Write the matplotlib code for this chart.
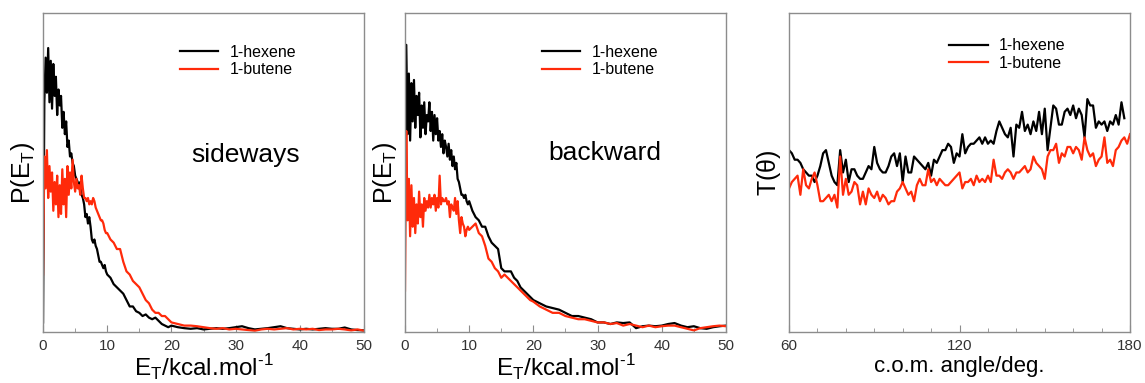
import numpy as np
import matplotlib
matplotlib.use('Agg')
import matplotlib.pyplot as plt
from matplotlib.ticker import MultipleLocator

plt.rcParams['font.family'] = ['Liberation Sans', 'DejaVu Sans']
plt.rcParams['mathtext.fontset'] = 'custom'
plt.rcParams['mathtext.rm'] = 'Liberation Sans'

# Energy grid (kcal/mol)
energy = np.concatenate([np.arange(0, 10, 0.2), np.arange(10, 20, 0.5),
                         np.arange(20, 51, 1.0)])

# Sideways P(ET), arbitrary units
side_hexene = [
    0.03, 0.72, 0.86, 0.75, 0.89, 0.72, 0.85, 0.70, 0.84, 0.74,
    0.80, 0.68, 0.76, 0.71, 0.74, 0.64, 0.69, 0.62, 0.66, 0.58,
    0.60, 0.55, 0.56, 0.53, 0.52, 0.49, 0.48, 0.47, 0.45, 0.47,
    0.43, 0.42, 0.40, 0.36, 0.37, 0.34, 0.36, 0.33, 0.29, 0.28,
    0.29, 0.27, 0.26, 0.24, 0.22, 0.22, 0.21, 0.20, 0.21, 0.19,
    0.18, 0.17, 0.15, 0.14, 0.13, 0.12, 0.10, 0.08, 0.08, 0.065,
    0.06, 0.05, 0.055, 0.045, 0.04, 0.045, 0.035, 0.025, 0.02, 0.015,
    0.02, 0.015, 0.012, 0.01, 0.012, 0.008, 0.01, 0.012, 0.01, 0.012,
    0.015, 0.018, 0.012, 0.008, 0.01, 0.012, 0.015, 0.018, 0.012, 0.01,
    0.008, 0.01, 0.008, 0.01, 0.012, 0.01, 0.01, 0.014, 0.008, 0.006,
    0.005]
side_butene = [
    0.18, 0.55, 0.45, 0.57, 0.42, 0.52, 0.44, 0.50, 0.38, 0.47,
    0.40, 0.49, 0.36, 0.46, 0.37, 0.51, 0.40, 0.48, 0.36, 0.52,
    0.43, 0.50, 0.45, 0.54, 0.47, 0.44, 0.48, 0.45, 0.46, 0.43,
    0.49, 0.45, 0.42, 0.42, 0.41, 0.42, 0.40, 0.41, 0.40, 0.42,
    0.41, 0.39, 0.38, 0.37, 0.36, 0.35, 0.35, 0.34, 0.32, 0.31,
    0.31, 0.29, 0.28, 0.26, 0.26, 0.22, 0.19, 0.18, 0.16, 0.15,
    0.14, 0.12, 0.10, 0.09, 0.07, 0.06, 0.06, 0.05, 0.05, 0.04,
    0.03, 0.025, 0.02, 0.02, 0.018, 0.015, 0.012, 0.01, 0.012, 0.008,
    0.01, 0.008, 0.006, 0.004, 0.008, 0.01, 0.008, 0.01, 0.012, 0.008,
    0.01, 0.008, 0.01, 0.006, 0.008, 0.008, 0.01, 0.008, 0.005, 0.008,
    0.004]

# Backward P(ET), arbitrary units
back_hexene = [
    0.64, 0.90, 0.62, 0.81, 0.60, 0.78, 0.66, 0.79, 0.64, 0.74,
    0.68, 0.75, 0.61, 0.71, 0.64, 0.72, 0.62, 0.68, 0.66, 0.72,
    0.63, 0.69, 0.60, 0.68, 0.62, 0.67, 0.60, 0.63, 0.58, 0.62,
    0.56, 0.60, 0.58, 0.55, 0.59, 0.54, 0.57, 0.52, 0.55, 0.51,
    0.53, 0.48, 0.47, 0.45, 0.43, 0.43, 0.42, 0.43, 0.41, 0.40,
    0.41, 0.38, 0.36, 0.35, 0.33, 0.33, 0.30, 0.28, 0.27, 0.26,
    0.20, 0.19, 0.19, 0.19, 0.17, 0.16, 0.14, 0.13, 0.12, 0.11,
    0.10, 0.09, 0.08, 0.075, 0.07, 0.06, 0.05, 0.05, 0.045, 0.04,
    0.03, 0.03, 0.025, 0.03, 0.028, 0.03, 0.012, 0.018, 0.02, 0.018,
    0.02, 0.025, 0.028, 0.02, 0.015, 0.018, 0.012, 0.01, 0.015, 0.018,
    0.02]
back_butene = [
    0.13, 0.63, 0.35, 0.48, 0.30, 0.46, 0.33, 0.42, 0.31, 0.40,
    0.34, 0.44, 0.36, 0.40, 0.33, 0.42, 0.38, 0.41, 0.39, 0.43,
    0.39, 0.42, 0.40, 0.43, 0.38, 0.42, 0.39, 0.49, 0.40, 0.42,
    0.41, 0.41, 0.42, 0.40, 0.41, 0.36, 0.40, 0.39, 0.38, 0.42,
    0.37, 0.41, 0.35, 0.31, 0.36, 0.34, 0.33, 0.30, 0.32, 0.33,
    0.32, 0.33, 0.34, 0.31, 0.30, 0.27, 0.23, 0.22, 0.20, 0.19,
    0.17, 0.18, 0.17, 0.16, 0.15, 0.14, 0.13, 0.12, 0.11, 0.10,
    0.095, 0.08, 0.07, 0.06, 0.06, 0.05, 0.045, 0.04, 0.04, 0.035,
    0.03, 0.03, 0.025, 0.028, 0.02, 0.025, 0.02, 0.015, 0.02, 0.015,
    0.018, 0.02, 0.02, 0.015, 0.01, 0.005, 0.012, 0.015, 0.018, 0.02,
    0.018]

# c.o.m. angular distribution T(theta), arbitrary units
angle_hexene = np.arange(60, 179, 1)
angle_butene = np.arange(60, 181, 1)
theta_hexene = [
    0.57, 0.56, 0.54, 0.54, 0.53, 0.51, 0.50, 0.49, 0.49, 0.47,
    0.49, 0.52, 0.56, 0.57, 0.53, 0.49, 0.47, 0.46, 0.57, 0.50,
    0.54, 0.47, 0.51, 0.51, 0.49, 0.48, 0.48, 0.50, 0.52, 0.51,
    0.58, 0.53, 0.51, 0.50, 0.50, 0.52, 0.55, 0.56, 0.52, 0.56,
    0.47, 0.55, 0.50, 0.50, 0.55, 0.54, 0.53, 0.52, 0.51, 0.53,
    0.49, 0.54, 0.53, 0.55, 0.57, 0.57, 0.59, 0.58, 0.53, 0.56,
    0.55, 0.62, 0.56, 0.58, 0.59, 0.59, 0.60, 0.61, 0.59, 0.61,
    0.59, 0.60, 0.59, 0.63, 0.66, 0.64, 0.62, 0.61, 0.64, 0.55,
    0.65, 0.64, 0.69, 0.63, 0.65, 0.62, 0.66, 0.63, 0.69, 0.62,
    0.70, 0.57, 0.64, 0.71, 0.70, 0.65, 0.65, 0.69, 0.70, 0.68,
    0.71, 0.67, 0.70, 0.68, 0.61, 0.73, 0.71, 0.71, 0.64, 0.66,
    0.65, 0.66, 0.63, 0.66, 0.65, 0.68, 0.65, 0.72, 0.67]
theta_butene = [
    0.45, 0.47, 0.48, 0.49, 0.43, 0.51, 0.46, 0.45, 0.48, 0.50,
    0.46, 0.41, 0.41, 0.42, 0.43, 0.41, 0.43, 0.39, 0.55, 0.43,
    0.48, 0.43, 0.44, 0.47, 0.46, 0.40, 0.44, 0.40, 0.45, 0.43,
    0.42, 0.44, 0.41, 0.43, 0.42, 0.40, 0.41, 0.41, 0.44, 0.45,
    0.47, 0.45, 0.43, 0.44, 0.41, 0.46, 0.48, 0.46, 0.46, 0.51,
    0.47, 0.48, 0.46, 0.48, 0.47, 0.46, 0.46, 0.47, 0.48, 0.49,
    0.50, 0.45, 0.47, 0.47, 0.48, 0.46, 0.49, 0.47, 0.48, 0.47,
    0.49, 0.47, 0.54, 0.49, 0.49, 0.48, 0.50, 0.51, 0.50, 0.48,
    0.50, 0.50, 0.51, 0.52, 0.50, 0.51, 0.55, 0.53, 0.52, 0.51,
    0.48, 0.55, 0.57, 0.57, 0.59, 0.53, 0.56, 0.55, 0.58, 0.58,
    0.56, 0.58, 0.57, 0.54, 0.61, 0.57, 0.55, 0.56, 0.52, 0.54,
    0.55, 0.61, 0.53, 0.54, 0.52, 0.57, 0.58, 0.60, 0.61, 0.59,
    0.62]

RED = '#ff2a0a'
GREY = '#8c8c8c'
TICK_TXT = '#333333'


def style_axis(ax):
    for s in ax.spines.values():
        s.set_color(GREY)
        s.set_linewidth(1.0)
    ax.tick_params(axis='x', which='both', direction='in', color=GREY,
                   labelcolor=TICK_TXT, labelsize=11, pad=5)
    ax.tick_params(axis='x', which='major', length=5)
    ax.tick_params(axis='x', which='minor', length=3)
    ax.set_yticks([])


def add_legend(ax, x0, y0):
    ax.legend(loc='upper left', bbox_to_anchor=(x0, y0), frameon=False,
              fontsize=11.5, handlelength=2.4, handletextpad=0.7,
              labelspacing=0.15, borderaxespad=0, borderpad=0)


fig = plt.figure(figsize=(11.45, 3.83), dpi=100)
ax1 = fig.add_axes([0.0376, 0.1332, 0.2803, 0.833])
ax2 = fig.add_axes([0.3537, 0.1332, 0.2803, 0.833])
ax3 = fig.add_axes([0.6891, 0.1332, 0.2978, 0.833])

# Sideways
ax1.plot(energy, side_hexene, color='black', linewidth=1.6, label='1-hexene')
ax1.plot(energy, side_butene, color=RED, linewidth=1.6, label='1-butene')
ax1.text(0.63, 0.555, 'sideways', transform=ax1.transAxes, fontsize=19,
         ha='center', va='center')

# Backward
ax2.plot(energy, back_hexene, color='black', linewidth=1.6, label='1-hexene')
ax2.plot(energy, back_butene, color=RED, linewidth=1.6, label='1-butene')
ax2.text(0.623, 0.56, 'backward', transform=ax2.transAxes, fontsize=19,
         ha='center', va='center')

for ax in (ax1, ax2):
    ax.set_xlim(0, 50)
    ax.set_ylim(0, 1)
    ax.xaxis.set_major_locator(MultipleLocator(10))
    ax.xaxis.set_minor_locator(MultipleLocator(5))
    style_axis(ax)
    ax.set_xlabel('E$_\\mathregular{T}$/kcal.mol$^\\mathregular{\u2010 1}$',
                  fontsize=17.5, labelpad=0)
    ax.set_ylabel(r'P(E$_\mathregular{T}$)', fontsize=18, labelpad=4)
    add_legend(ax, 0.427, 0.9)

# Angular distribution
ax3.plot(angle_hexene, theta_hexene, color='black', linewidth=1.6, label='1-hexene')
ax3.plot(angle_butene, theta_butene, color=RED, linewidth=1.6, label='1-butene')
ax3.set_xlim(60, 180)
ax3.set_ylim(0, 1)
ax3.xaxis.set_major_locator(MultipleLocator(60))
ax3.xaxis.set_minor_locator(MultipleLocator(10))
style_axis(ax3)
ax3.set_xlabel('c.o.m. angle/deg.', fontsize=16, labelpad=2)
ax3.set_ylabel(r'T($\mathregular{\theta}$)', fontsize=18, labelpad=4)
add_legend(ax3, 0.47, 0.92)

fig.savefig('out.png', dpi=100)
